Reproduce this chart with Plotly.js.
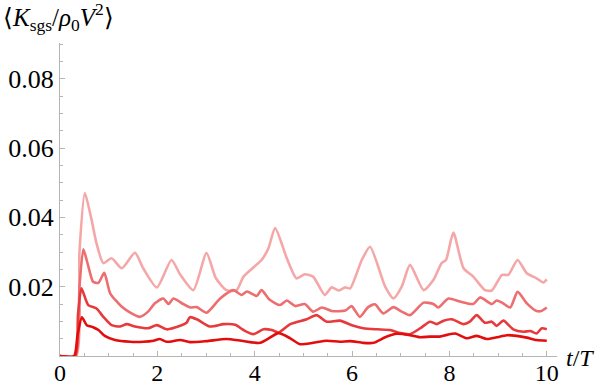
<!DOCTYPE html>
<html>
<head>
<meta charset="utf-8">
<script src="https://cdn.plot.ly/plotly-3.0.1.min.js"></script>
<style>
  html, body { margin: 0; padding: 0; background: #fff; }
  #chart { width: 600px; height: 385px; }
</style>
</head>
<body>
<div id="chart"></div>
<script>
// values, t/T on x, <K_sgs/rho0 V^2> on y
const t1 = [0, 0.33, 0.40, 0.51, 0.65, 0.75, 0.89, 1.06, 1.27, 1.54, 1.71, 1.99, 2.29, 2.47, 2.74, 3.01, 3.20, 3.42, 3.63, 3.77, 4.14, 4.28, 4.42, 4.66, 4.86, 5.03, 5.20, 5.44, 5.58, 5.72, 5.86, 5.96, 6.20, 6.37, 6.68, 6.85, 7.02, 7.19, 7.47, 7.67, 7.84, 7.93, 8.08, 8.29, 8.49, 8.73, 8.87, 9.08, 9.21, 9.40, 9.59, 9.79, 9.93, 10.0];
const s1 = [0, 0, 0.030, 0.0470, 0.0392, 0.0325, 0.0268, 0.0282, 0.0253, 0.0298, 0.0253, 0.0198, 0.0277, 0.0235, 0.0190, 0.0297, 0.0225, 0.0190, 0.0190, 0.0229, 0.0277, 0.0310, 0.0369, 0.0282, 0.0224, 0.0236, 0.0229, 0.0176, 0.0198, 0.0189, 0.0198, 0.0195, 0.0277, 0.0315, 0.0200, 0.0166, 0.0200, 0.0263, 0.0190, 0.0219, 0.0268, 0.0277, 0.0356, 0.0253, 0.0229, 0.0190, 0.0189, 0.0234, 0.0234, 0.0277, 0.0239, 0.0224, 0.0212, 0.0221];

const t2 = [0, 0.32, 0.40, 0.48, 0.58, 0.68, 0.79, 0.91, 1.03, 1.27, 1.47, 1.64, 1.81, 1.95, 2.12, 2.23, 2.33, 2.53, 2.67, 2.81, 3.01, 3.29, 3.56, 3.73, 3.84, 4.04, 4.14, 4.31, 4.52, 4.66, 4.83, 5.03, 5.20, 5.38, 5.58, 5.86, 5.99, 6.16, 6.33, 6.47, 6.64, 6.85, 7.02, 7.19, 7.47, 7.67, 7.77, 7.98, 8.22, 8.49, 8.63, 8.87, 8.97, 9.08, 9.25, 9.40, 9.59, 9.79, 9.89, 10.0];
const s2 = [0, 0, 0.020, 0.0308, 0.0260, 0.0214, 0.0211, 0.0240, 0.0181, 0.0142, 0.0123, 0.0113, 0.0128, 0.0152, 0.0166, 0.0150, 0.0166, 0.0150, 0.0140, 0.0141, 0.0125, 0.0166, 0.0190, 0.0176, 0.0186, 0.0173, 0.0190, 0.0162, 0.0147, 0.0160, 0.0144, 0.0150, 0.0128, 0.0140, 0.0130, 0.0131, 0.0144, 0.0113, 0.0141, 0.0149, 0.0123, 0.0141, 0.0128, 0.0118, 0.0154, 0.0150, 0.0140, 0.0166, 0.0157, 0.0150, 0.0169, 0.0150, 0.0160, 0.0154, 0.0140, 0.0185, 0.0152, 0.0130, 0.0130, 0.0140];

const t3 = [0, 0.31, 0.37, 0.44, 0.58, 0.75, 0.89, 1.06, 1.23, 1.37, 1.54, 1.81, 1.99, 2.19, 2.47, 2.60, 2.67, 2.81, 3.08, 3.36, 3.60, 3.77, 3.97, 4.18, 4.35, 4.49, 4.73, 5.07, 5.27, 5.48, 5.75, 6.03, 6.23, 6.51, 6.78, 6.99, 7.19, 7.40, 7.60, 7.74, 7.88, 8.05, 8.29, 8.42, 8.56, 8.73, 8.87, 8.97, 9.11, 9.31, 9.52, 9.66, 9.79, 9.90, 10.0];
const s3 = [0, 0, 0.012, 0.0195, 0.0147, 0.0137, 0.0113, 0.0089, 0.0085, 0.0092, 0.0085, 0.0080, 0.0089, 0.0077, 0.0087, 0.0096, 0.0112, 0.0106, 0.0085, 0.0092, 0.0090, 0.0075, 0.0063, 0.0077, 0.0075, 0.0068, 0.0092, 0.0106, 0.0118, 0.0099, 0.0102, 0.0087, 0.0080, 0.0077, 0.0075, 0.0066, 0.0063, 0.0080, 0.0099, 0.0092, 0.0102, 0.0106, 0.0092, 0.0099, 0.0118, 0.0096, 0.0099, 0.0087, 0.0102, 0.0077, 0.0070, 0.0072, 0.0065, 0.0080, 0.0077];

const t4 = [0, 0.29, 0.36, 0.45, 0.55, 0.68, 0.79, 0.92, 1.13, 1.44, 1.71, 1.92, 2.05, 2.19, 2.47, 2.67, 3.01, 3.42, 3.73, 4.11, 4.49, 4.73, 4.93, 5.20, 5.48, 5.75, 5.96, 6.23, 6.44, 6.68, 6.92, 7.19, 7.40, 7.60, 7.80, 7.95, 8.12, 8.36, 8.56, 8.77, 8.97, 9.18, 9.38, 9.59, 9.79, 10.0];
const s4 = [0, 0, 0.006, 0.0112, 0.0089, 0.0083, 0.0075, 0.0058, 0.0046, 0.0041, 0.0041, 0.0044, 0.0049, 0.0041, 0.0046, 0.0040, 0.0043, 0.0049, 0.0044, 0.0038, 0.0066, 0.0051, 0.0034, 0.0038, 0.0044, 0.0041, 0.0043, 0.0038, 0.0038, 0.0054, 0.0064, 0.0060, 0.0054, 0.0056, 0.0056, 0.0061, 0.0065, 0.0051, 0.0058, 0.0049, 0.0054, 0.0060, 0.0058, 0.0053, 0.0046, 0.0044];

const xTicks = [0, 2, 4, 6, 8, 10];
const yTicks = [0.02, 0.04, 0.06, 0.08];
const yTickText = ['0.02', '0.04', '0.06', '0.08'];

const colors = ['#f5a7a8', '#ee6e70', '#e63a3c', '#e30d0d'];
const serif = 'Liberation Serif';
const axisGray = '#b5b5b5';

function line(x, y, color) {
    return {
        x: x, y: y,
        type: 'scatter',
        mode: 'lines',
        line: { color: color, width: 2.6, shape: 'spline', smoothing: 0.6 },
        hoverinfo: 'skip'
    };
}

const traces = [
    line(t1, s1, colors[0]),
    line(t2, s2, colors[1]),
    line(t3, s3, colors[2]),
    line(t4, s4, colors[3])
];

const layout = {
    width: 600,
    height: 385,
    margin: { l: 60, r: 43, t: 43, b: 29 },
    paper_bgcolor: '#fff',
    plot_bgcolor: '#fff',
    showlegend: false,
    font: { family: serif, color: '#000' },
    xaxis: {
        range: [0, 10.21],
        showgrid: false, zeroline: false,
        showline: true, linecolor: axisGray, linewidth: 1,
        ticks: 'inside', ticklen: 5, tickcolor: axisGray,
        tickmode: 'array', tickvals: xTicks,
        ticklabelstandoff: -5,
        tickfont: { family: serif, size: 24, color: '#000' },
        minor: { tickmode: 'linear', tick0: 0, dtick: 0.5, ticks: 'inside', ticklen: 3, tickcolor: axisGray, showgrid: false },
        automargin: false
    },
    yaxis: {
        range: [0, 0.0903],
        showgrid: false, zeroline: false,
        showline: true, linecolor: axisGray, linewidth: 1,
        ticks: 'inside', ticklen: 5, tickcolor: axisGray,
        tickmode: 'array', tickvals: yTicks, ticktext: yTickText,
        ticklabelstandoff: 0,
        tickfont: { family: serif, size: 26, color: '#000' },
        minor: { tickmode: 'linear', tick0: 0, dtick: 0.005, ticks: 'inside', ticklen: 3, tickcolor: axisGray, showgrid: false },
        automargin: false
    },
    annotations: [
        {
            xref: 'paper', yref: 'paper',
            x: -0.118, y: 1.083, xanchor: 'left', yanchor: 'middle',
            text: '⟨<i>K</i><sub>sgs</sub>/<i>ρ</i><sub>0</sub><i>V</i><sup>2</sup>⟩',
            showarrow: false,
            font: { family: serif, size: 25, color: '#000' }
        },
        {
            xref: 'paper', yref: 'paper',
            x: 1.014, y: -0.005, xanchor: 'left', yanchor: 'middle',
            text: '<i>t</i>/<i>T</i>',
            showarrow: false,
            font: { family: serif, size: 24, color: '#000' }
        }
    ]
};

Plotly.newPlot('chart', traces, layout, { staticPlot: true, displayModeBar: false });
</script>
</body>
</html>
